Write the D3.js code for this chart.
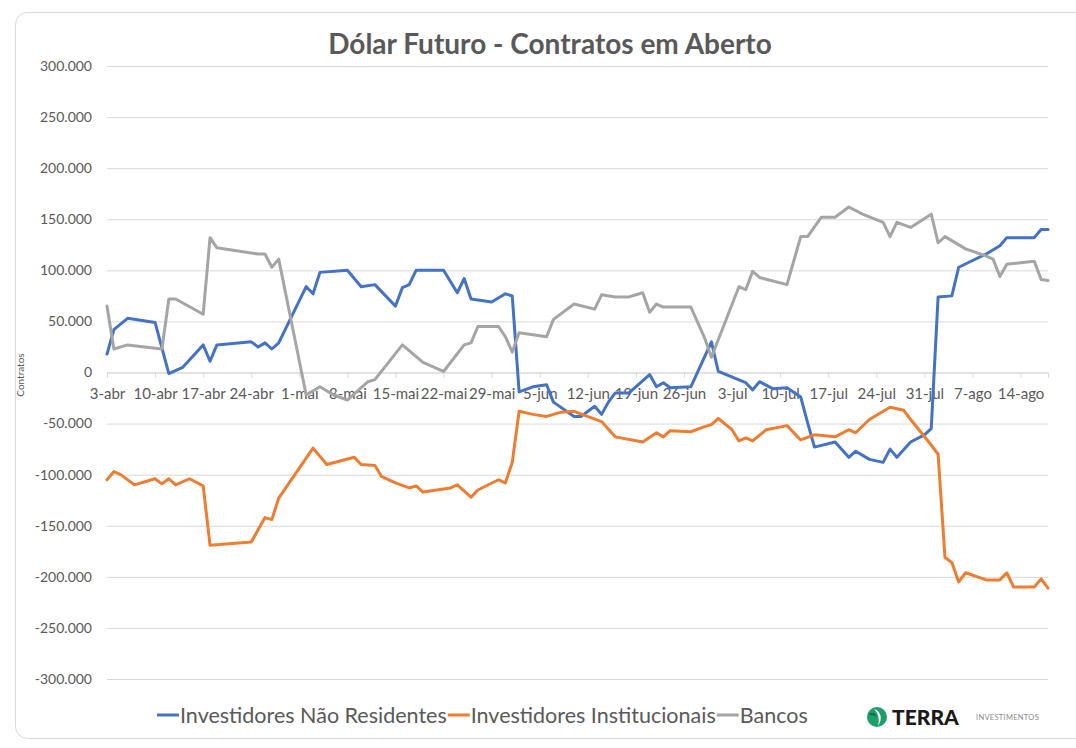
<!DOCTYPE html>
<html>
<head>
<meta charset="utf-8">
<script src="https://cdn.jsdelivr.net/npm/d3@7"></script>
<style>
  html, body { margin: 0; padding: 0; background: #fff; }
  svg { display: block; font-family: Lato, "Open Sans", sans-serif; }
</style>
</head>
<body>
<div id="chart"></div>
<script>
// ── Data ────────────────────────────────────────────────────
var title = "Dólar Futuro - Contratos em Aberto";
var yTitle = "Contratos";

var tickDates = ["04-03", "04-10", "04-17", "04-24", "05-01", "05-08", "05-15",
  "05-22", "05-29", "06-05", "06-12", "06-19", "06-26", "07-03", "07-10",
  "07-17", "07-24", "07-31", "08-07", "08-14"];
var tickLabels = ["3-abr", "10-abr", "17-abr", "24-abr", "1-mai", "8-mai", "15-mai",
  "22-mai", "29-mai", "5-jun", "12-jun", "19-jun", "26-jun", "3-jul", "10-jul",
  "17-jul", "24-jul", "31-jul", "7-ago", "14-ago"];
var yTicks = [300000, 250000, 200000, 150000, 100000, 50000, 0, -50000,
  -100000, -150000, -200000, -250000, -300000];

var naoResidentes = [
  ["04-03", 18000], ["04-04", 42000], ["04-06", 53000], ["04-10", 49000],
  ["04-12", -1000], ["04-14", 5000], ["04-17", 27000], ["04-18", 11000],
  ["04-19", 27000], ["04-24", 30000], ["04-25", 25000], ["04-26", 29000],
  ["04-27", 23000], ["04-28", 29000], ["05-02", 84000], ["05-03", 77000],
  ["05-04", 98000], ["05-08", 100000], ["05-10", 84000], ["05-12", 86000],
  ["05-15", 65000], ["05-16", 83000], ["05-17", 86000], ["05-18", 100000],
  ["05-22", 100000], ["05-24", 78000], ["05-25", 92000], ["05-26", 72000],
  ["05-29", 69000], ["05-31", 77000], ["06-01", 75000], ["06-02", -19000],
  ["06-04", -14000], ["06-06", -12000], ["06-07", -29000], ["06-10", -43000],
  ["06-11", -43000], ["06-13", -33000], ["06-14", -41000], ["06-15", -29000],
  ["06-16", -20000], ["06-18", -20000], ["06-21", -2000], ["06-22", -14000],
  ["06-23", -10000], ["06-24", -15000], ["06-27", -14000], ["06-30", 30000],
  ["07-01", 1000], ["07-05", -10000], ["07-06", -17000], ["07-07", -9000],
  ["07-09", -16000], ["07-11", -15000], ["07-13", -24000], ["07-14", -49000],
  ["07-15", -73000], ["07-18", -68000], ["07-20", -83000], ["07-21", -77000],
  ["07-23", -85000], ["07-25", -88000], ["07-26", -75000], ["07-27", -83000],
  ["07-29", -68000], ["07-31", -61000], ["08-01", -55000], ["08-02", 74000],
  ["08-04", 75000], ["08-05", 103000], ["08-09", 116000], ["08-11", 124000],
  ["08-12", 132000], ["08-16", 132000], ["08-17", 140000], ["08-18", 140000]
];

var institucionais = [
  ["04-03", -105000], ["04-04", -97000], ["04-05", -100000], ["04-07", -110000],
  ["04-10", -104000], ["04-11", -109000], ["04-12", -104000], ["04-13", -110000],
  ["04-15", -104000], ["04-17", -111000], ["04-18", -169000], ["04-24", -166000],
  ["04-26", -142000], ["04-27", -144000], ["04-28", -123000], ["05-03", -74000],
  ["05-05", -90000], ["05-09", -83000], ["05-10", -90000], ["05-12", -91000],
  ["05-13", -102000], ["05-15", -108000], ["05-17", -113000], ["05-18", -111000],
  ["05-19", -117000], ["05-23", -113000], ["05-24", -110000], ["05-26", -122000],
  ["05-27", -115000], ["05-30", -105000], ["05-31", -108000], ["06-01", -88000],
  ["06-02", -38000], ["06-04", -41000], ["06-06", -43000], ["06-08", -39000],
  ["06-10", -38000], ["06-14", -48000], ["06-16", -63000], ["06-20", -68000],
  ["06-22", -59000], ["06-23", -63000], ["06-24", -57000], ["06-27", -58000],
  ["06-29", -53000], ["06-30", -51000], ["07-01", -45000], ["07-03", -56000],
  ["07-04", -67000], ["07-05", -64000], ["07-06", -67000], ["07-08", -56000],
  ["07-11", -52000], ["07-13", -66000], ["07-15", -61000], ["07-18", -63000],
  ["07-20", -56000], ["07-21", -59000], ["07-23", -46000], ["07-26", -34000],
  ["07-28", -37000], ["07-29", -46000], ["08-01", -71000], ["08-02", -80000],
  ["08-03", -181000], ["08-04", -186000], ["08-05", -205000], ["08-06", -196000],
  ["08-09", -203000], ["08-11", -203000], ["08-12", -196000], ["08-13", -210000],
  ["08-16", -210000], ["08-17", -202000], ["08-18", -211000]
];

var bancos = [
  ["04-03", 65000], ["04-04", 23000], ["04-06", 27000], ["04-11", 23000],
  ["04-12", 72000], ["04-13", 72000], ["04-17", 57000], ["04-18", 132000],
  ["04-19", 122000], ["04-25", 116000], ["04-26", 116000], ["04-27", 103000],
  ["04-28", 111000], ["05-02", -22000], ["05-04", -14000], ["05-06", -22000],
  ["05-08", -27000], ["05-11", -9000], ["05-12", -7000], ["05-16", 27000],
  ["05-19", 10000], ["05-22", 1000], ["05-25", 27000], ["05-26", 29000],
  ["05-27", 45000], ["05-30", 45000], ["05-31", 35000], ["06-01", 20000],
  ["06-02", 39000], ["06-06", 35000], ["06-07", 52000], ["06-10", 67000],
  ["06-13", 62000], ["06-14", 76000], ["06-16", 74000], ["06-18", 74000],
  ["06-20", 78000], ["06-21", 59000], ["06-22", 67000], ["06-23", 64000],
  ["06-27", 64000], ["06-29", 34000], ["06-30", 15000], ["07-04", 84000],
  ["07-05", 81000], ["07-06", 99000], ["07-07", 93000], ["07-11", 86000],
  ["07-13", 133000], ["07-14", 133000], ["07-16", 152000], ["07-18", 152000],
  ["07-20", 162000], ["07-22", 155000], ["07-25", 147000], ["07-26", 133000],
  ["07-27", 147000], ["07-29", 142000], ["08-01", 155000], ["08-02", 127000],
  ["08-03", 133000], ["08-06", 121000], ["08-09", 114000], ["08-10", 111000],
  ["08-11", 94000], ["08-12", 106000], ["08-16", 109000], ["08-17", 91000],
  ["08-18", 90000]
];

var seriesNames = ["Investidores Não Residentes", "Investidores Institucionais", "Bancos"];
var seriesColors = ["#4472C4", "#ED7D31", "#A5A5A5"];

// ── Chart ──────────────────────────────────────────────────
var W = 1076, H = 748;
var textColor = "#595959";
var parseDay = d3.timeParse("%Y-%m-%d");
function day(s) { return parseDay("2023-" + s); }

var fmt = d3.formatLocale({ decimal: ",", thousands: ".", grouping: [3], currency: ["R$", ""], minus: "-" }).format(",d");

var svg = d3.select("#chart").append("svg")
  .attr("width", W).attr("height", H);

// card border
svg.append("rect")
  .attr("x", 15.5).attr("y", 12.5)
  .attr("width", 1100).attr("height", 726)
  .attr("rx", 12)
  .attr("fill", "#fff")
  .attr("stroke", "#d9d9d9");

var x = d3.scaleTime()
  .domain([day("04-03"), day("08-18")])
  .range([107, 1048]);
var y = d3.scaleLinear()
  .domain([-300000, 300000])
  .range([679, 66]);

// title
svg.append("text")
  .attr("x", 550).attr("y", 54)
  .attr("text-anchor", "middle")
  .attr("fill", textColor)
  .attr("font-size", 28)
  .attr("font-weight", 700)
  .text(title);

// grid
var grid = svg.append("g")
  .attr("transform", "translate(107,0)")
  .call(d3.axisLeft(y).tickValues(yTicks).tickSize(-941).tickFormat(""));
grid.select(".domain").remove();
grid.selectAll(".tick line").attr("stroke", "#d9d9d9").attr("stroke-width", 1);

// y labels
svg.append("g").selectAll("text")
  .data(yTicks)
  .join("text")
  .attr("x", 92)
  .attr("y", function (d) { return y(d); })
  .attr("dy", "0.35em")
  .attr("text-anchor", "end")
  .attr("fill", textColor)
  .attr("font-size", 14)
  .text(function (d) { return fmt(d); });

// y title
svg.append("text")
  .attr("transform", "translate(24,375) rotate(-90)")
  .attr("text-anchor", "middle")
  .attr("fill", textColor)
  .attr("font-size", 10)
  .text(yTitle);

// x axis along zero
var xAxis = svg.append("g")
  .attr("transform", "translate(0," + y(0) + ")")
  .call(d3.axisBottom(x)
    .tickValues(tickDates.map(day))
    .tickSize(5)
    .tickFormat(function (d, i) { return tickLabels[i]; }));
xAxis.select(".domain").attr("stroke", "#d9d9d9");
xAxis.selectAll(".tick line").attr("stroke", "#d9d9d9");
xAxis.selectAll(".tick text")
  .attr("fill", textColor)
  .attr("font-size", 15)
  .attr("font-family", "Lato, sans-serif")
  .attr("y", 16)
  .attr("dy", "0.71em");

// lines
var line = d3.line()
  .x(function (d) { return x(day(d[0])); })
  .y(function (d) { return y(d[1]); });

[naoResidentes, institucionais, bancos].forEach(function (data, i) {
  svg.append("path")
    .datum(data)
    .attr("fill", "none")
    .attr("stroke", seriesColors[i])
    .attr("stroke-width", 3)
    .attr("stroke-linejoin", "round")
    .attr("stroke-linecap", "round")
    .attr("d", line);
});

// legend
var legend = svg.append("g");
var lx = 157, ly = 715;
seriesNames.forEach(function (name, i) {
  legend.append("line")
    .attr("x1", lx).attr("x2", lx + 22)
    .attr("y1", ly).attr("y2", ly)
    .attr("stroke", seriesColors[i])
    .attr("stroke-width", 3);
  var t = legend.append("text")
    .attr("x", lx + 23).attr("y", ly)
    .attr("dy", "0.35em")
    .attr("fill", textColor)
    .attr("font-size", 21.5)
    .text(name);
  lx += 23 + t.node().getComputedTextLength() + 1;
});

// logo
var logo = svg.append("g").attr("transform", "translate(877,717)");
logo.append("circle").attr("r", 10).attr("fill", "#1e9e6b");
logo.append("path")
  .attr("d", "M-3,-8 C4,-6 6,2 1,9 C3,2 1,-4 -3,-8 Z")
  .attr("fill", "#fff");
logo.append("path")
  .attr("d", "M-9,-2 C-5,-6 -1,-4 0,0 C-3,-2 -6,-2 -9,-2 Z")
  .attr("fill", "#0f6e48");
logo.append("text")
  .attr("x", 15).attr("y", 0).attr("dy", "0.36em")
  .attr("font-size", 21).attr("font-weight", 900)
  .attr("fill", "#1a1a1a")
  .text("TERRA");
logo.append("text")
  .attr("x", 99).attr("y", 0).attr("dy", "0.36em")
  .attr("font-size", 7.5)
  .attr("fill", "#8a8a8a")
  .attr("letter-spacing", 0.3)
  .text("INVESTIMENTOS");
</script>
</body>
</html>
